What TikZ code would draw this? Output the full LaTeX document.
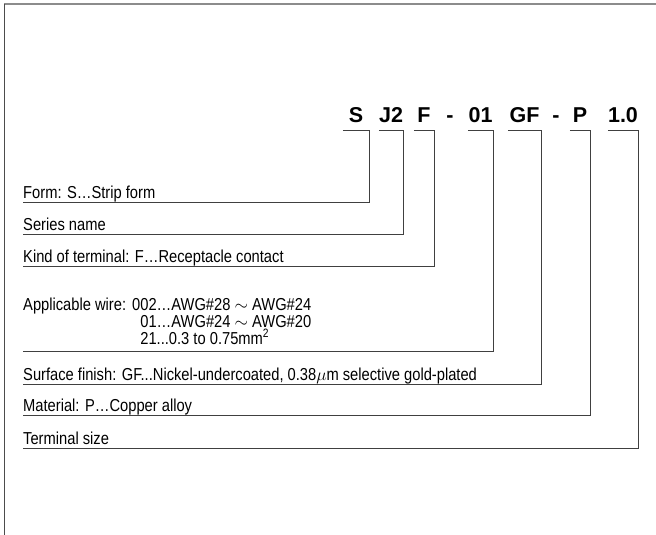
\documentclass[tikz,border=0pt]{standalone}
\usepackage{fontspec}
\setmainfont{Liberation Sans}[FakeStretch=0.85]
\newfontfamily\codefont{Liberation Sans}
\usetikzlibrary{calc}
\setlength\lineskiplimit{-20pt}
\tikzset{
 pn frame/.style={line width=1.6pt,black!45},
 pn edge/.style={line width=1pt,black!70},
 pn lead/.style={line width=1pt,black!75},
 pn code/.style={font=\codefont\bfseries\fontsize{21.5}{21.5}\selectfont,
                 inner sep=0pt,anchor=base},
 pn label/.style={font=\fontsize{17.3}{17}\selectfont,
                  inner sep=0pt,anchor=base west,align=left}
}
\newcommand\wiregap{\phantom{Applicable wire:\hspace{6pt}0}}

\begin{document}
\begin{tikzpicture}[x=1pt,y=-1pt]
 \useasboundingbox (0,0) rectangle (656,535);
 \coordinate (ft) at (4,4);
 \coordinate (fr) at (656,4);
 \coordinate (fb) at (4,535);
 \draw[pn frame] (ft)--(fr);
 \draw[pn edge] (ft)--(fb);

 % part number
 \node[pn code,minimum width=26pt] (cS) at (356,122) {S};
 \node[pn code,minimum width=24pt] (cJ) at (391,122) {J2};
 \node[pn code,minimum width=20pt] (cF) at (424,122) {F};
 \node[pn code] (d1) at (450,122) {-};
 \node[pn code,minimum width=25pt] (cW) at (480.5,122) {01};
 \node[pn code,minimum width=33pt] (cG) at (524.5,122) {GF};
 \node[pn code] (d2) at (556,122) {-};
 \node[pn code,minimum width=20pt] (cP) at (580,122) {P};
 \node[pn code,minimum width=28pt] (cT) at (623,122) {1.0};

 % explanations
 \coordinate (lS) at (23,202);
 \coordinate (lJ) at (23,234);
 \coordinate (lF) at (23,266);
 \coordinate (lW) at (23,351);
 \coordinate (lG) at (23,384);
 \coordinate (lP) at (23,415);
 \coordinate (lT) at (23,448);
 \node[pn label] (tS) at ([yshift=3.5pt]lS) {Form: S…Strip form};
 \node[pn label] (tJ) at ([yshift=3.5pt]lJ) {Series name};
 \node[pn label] (tF) at ([yshift=3.5pt]lF) {Kind of terminal: F…Receptacle contact};
 \node[pn label] (tW) at ([yshift=7pt]lW)
   {Applicable wire:\hspace{6pt}002…AWG\#28 $\sim$ AWG\#24\\
    \wiregap01…AWG\#24 $\sim$ AWG\#20\\
    \wiregap21...0.3 to 0.75mm\textsuperscript{2}};
 \node[pn label] (tG) at ([yshift=3.5pt]lG)
   {Surface finish: GF...Nickel-undercoated, 0.38$\mu$m selective gold-plated};
 \node[pn label] (tP) at ([yshift=3.5pt]lP) {Material: P…Copper alloy};
 \node[pn label] (tT) at ([yshift=3.5pt]lT) {Terminal size};

 \foreach \c/\l in {cS/lS,cJ/lJ,cF/lF,cW/lW,cG/lG,cP/lP,cT/lT}
   \draw[pn lead] ([yshift=-8pt]\c.base west)--([yshift=-8pt]\c.base east)|-(\l);
\end{tikzpicture}
\end{document}
